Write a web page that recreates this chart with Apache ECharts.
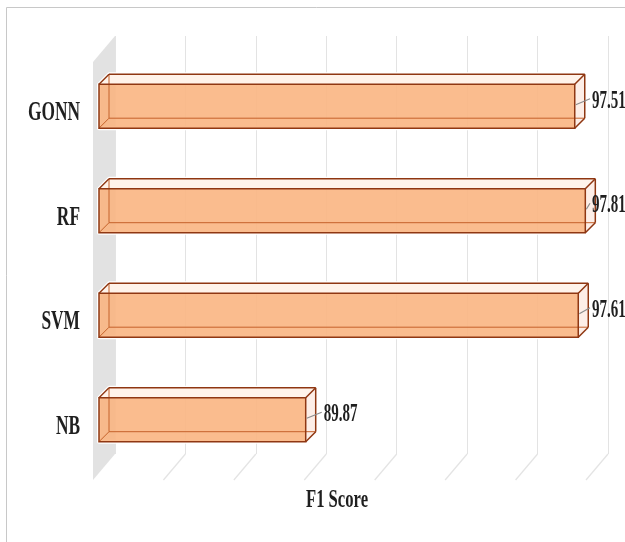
<!DOCTYPE html>
<html>
<head>
<meta charset="utf-8">
<script src="https://cdn.jsdelivr.net/npm/echarts@6/dist/echarts.min.js"></script>
<style>
  html, body { margin: 0; padding: 0; background: #ffffff; }
  #chart { width: 625px; height: 542px; }
</style>
</head>
<body>
<div id="chart"></div>
<script>
// Model names and their F1 scores
const categories = ['GONN', 'RF', 'SVM', 'NB'];
const f1Scores = [97.51, 97.81, 97.61, 89.87];
// Value-axis gridline positions (labels are not shown)
const xTicks = [84, 86, 88, 90, 92, 94, 96, 98];
const axisTitle = 'F1 Score';

// Pseudo-3D depth: offset of the front floor edge from the back wall,
// and of each bar's front / back face
const FLOOR = [-22, 26];
const BAR_FRONT = [-16, 18];
const BAR_BACK = [-6, 8];
const TEXT_FONT = '"Liberation Serif", "Times New Roman", serif';
const TEXT_COLOR = '#1f1f1f';

const chart = echarts.init(document.getElementById('chart'), null, { renderer: 'canvas' });

function floorItem(params, api) {
  const cs = params.coordSys;
  const x = api.coord([api.value(0), 0])[0];
  const yb = cs.y + cs.height;
  const children = [];
  if (params.dataIndex === 0) {
    // side wall at the axis minimum
    children.push({
      type: 'polygon',
      shape: { points: [[x, cs.y], [x, yb], [x + FLOOR[0], yb + FLOOR[1]], [x + FLOOR[0], cs.y + FLOOR[1]]] },
      style: { fill: '#e2e2e2' }
    });
  } else {
    children.push({
      type: 'line',
      shape: { x1: x, y1: yb, x2: x + FLOOR[0], y2: yb + FLOOR[1] },
      style: { stroke: '#e4e4e4', lineWidth: 1.3 }
    });
  }
  return { type: 'group', children: children };
}

function barItem(params, api) {
  const cs = params.coordSys;
  const idx = api.value(1);
  const end = api.coord([api.value(0), idx]);
  const start = api.coord([xTicks[0], idx]);
  const band = api.size([0, 1])[1];
  const h = band * 0.21;
  const cy = end[1];

  const fx0 = start[0] + BAR_FRONT[0], fx1 = end[0] + BAR_FRONT[0];
  const fy0 = cy + BAR_FRONT[1] - h, fy1 = cy + BAR_FRONT[1] + h;
  const bx0 = start[0] + BAR_BACK[0], bx1 = end[0] + BAR_BACK[0];
  const by0 = cy + BAR_BACK[1] - h, by1 = cy + BAR_BACK[1] + h;

  const edge = { stroke: '#8f3712', lineWidth: 1.5 };
  const hidden = { stroke: '#c5622a', lineWidth: 1 };
  const line = (x1, y1, x2, y2, st) => ({ type: 'line', shape: { x1, y1, x2, y2 }, style: st });

  const labelY = cy + BAR_FRONT[1] - 5;
  // keep value labels from running past the plot frame
  const textX = Math.min(bx1 + 8, cs.x + cs.width - 16);

  const children = [
    // soft white halo around the box
    { type: 'polygon',
      shape: { points: [[fx0, fy1], [fx0, fy0], [bx0, by0], [bx1, by0], [bx1, by1], [fx1, fy1]] },
      style: { fill: 'none', stroke: '#ffffff', lineWidth: 4, lineJoin: 'round' } },
    // top face
    { type: 'polygon',
      shape: { points: [[fx0, fy0], [bx0, by0], [bx1, by0], [fx1, fy0]] },
      style: { fill: '#fff3ea' } },
    // end face
    { type: 'polygon',
      shape: { points: [[fx1, fy0], [bx1, by0], [bx1, by1], [fx1, fy1]] },
      style: { fill: '#fdeee7' } },
    // front face
    { type: 'rect',
      shape: { x: fx0, y: fy0, width: fx1 - fx0, height: fy1 - fy0 },
      style: { fill: '#fab582', opacity: 0.9 } },
    // edges seen through the translucent front face
    line(bx0, by0, bx0, by1, hidden),
    line(bx0, by1, bx1, by1, hidden),
    line(fx0, fy1, bx0, by1, hidden),
    // outer edges
    { type: 'rect', shape: { x: fx0, y: fy0, width: fx1 - fx0, height: fy1 - fy0 },
      style: { fill: 'none', stroke: edge.stroke, lineWidth: edge.lineWidth } },
    line(fx0, fy0, bx0, by0, edge),
    line(bx0, by0, bx1, by0, edge),
    line(fx1, fy0, bx1, by0, edge),
    line(bx1, by0, bx1, by1, edge),
    line(fx1, fy1, bx1, by1, edge),
    // leader line and value label
    line(fx1 + 1, labelY + 3.5, textX - 2, labelY - 2.5, { stroke: '#8c8c8c', lineWidth: 1.2 }),
    { type: 'text', x: textX, y: labelY, scaleX: 0.6,
      style: { text: String(api.value(0)), font: 'bold 25px ' + TEXT_FONT, fill: TEXT_COLOR,
               align: 'left', verticalAlign: 'middle', textAlign: 'left', textVerticalAlign: 'middle' } },
    // category label at the front floor edge
    { type: 'text', x: cs.x + FLOOR[0] - 13, y: cy + 25, scaleX: 0.62,
      style: { text: categories[idx], font: 'bold 28px ' + TEXT_FONT, fill: TEXT_COLOR,
               align: 'right', verticalAlign: 'middle', textAlign: 'right', textVerticalAlign: 'middle' } }
  ];
  return { type: 'group', children: children };
}

const option = {
  backgroundColor: '#ffffff',
  animation: false,
  grid: { left: 115, top: 36, width: 493, height: 418, containLabel: false },
  xAxis: {
    type: 'value',
    min: xTicks[0],
    max: xTicks[xTicks.length - 1],
    interval: xTicks[1] - xTicks[0],
    axisLabel: { show: false },
    axisLine: { show: false },
    axisTick: { show: false },
    splitLine: { show: true, lineStyle: { color: '#e3e3e3', width: 1 } }
  },
  yAxis: {
    type: 'category',
    data: categories,
    inverse: true,
    axisLabel: { show: false },
    axisLine: { show: false },
    axisTick: { show: false },
    splitLine: { show: false }
  },
  graphic: [
    { type: 'rect', silent: true,
      shape: { x: 6.5, y: 7.5, width: 700, height: 600 },
      style: { fill: 'none', stroke: '#c8c8c8', lineWidth: 1 } },
    { type: 'text', silent: true, x: 337, y: 500, scaleX: 0.64,
      style: { text: axisTitle, font: 'bold 26px ' + TEXT_FONT, fill: TEXT_COLOR,
               align: 'center', verticalAlign: 'middle', textAlign: 'center', textVerticalAlign: 'middle' } }
  ],
  series: [
    {
      type: 'custom',
      silent: true,
      coordinateSystem: 'cartesian2d',
      renderItem: floorItem,
      data: xTicks.map(v => [v, 0]),
      z: 1
    },
    {
      type: 'custom',
      silent: true,
      coordinateSystem: 'cartesian2d',
      renderItem: barItem,
      encode: { x: 0, y: 1 },
      data: f1Scores.map((v, i) => [v, i]),
      z: 2
    }
  ]
};

chart.setOption(option);
</script>
</body>
</html>
